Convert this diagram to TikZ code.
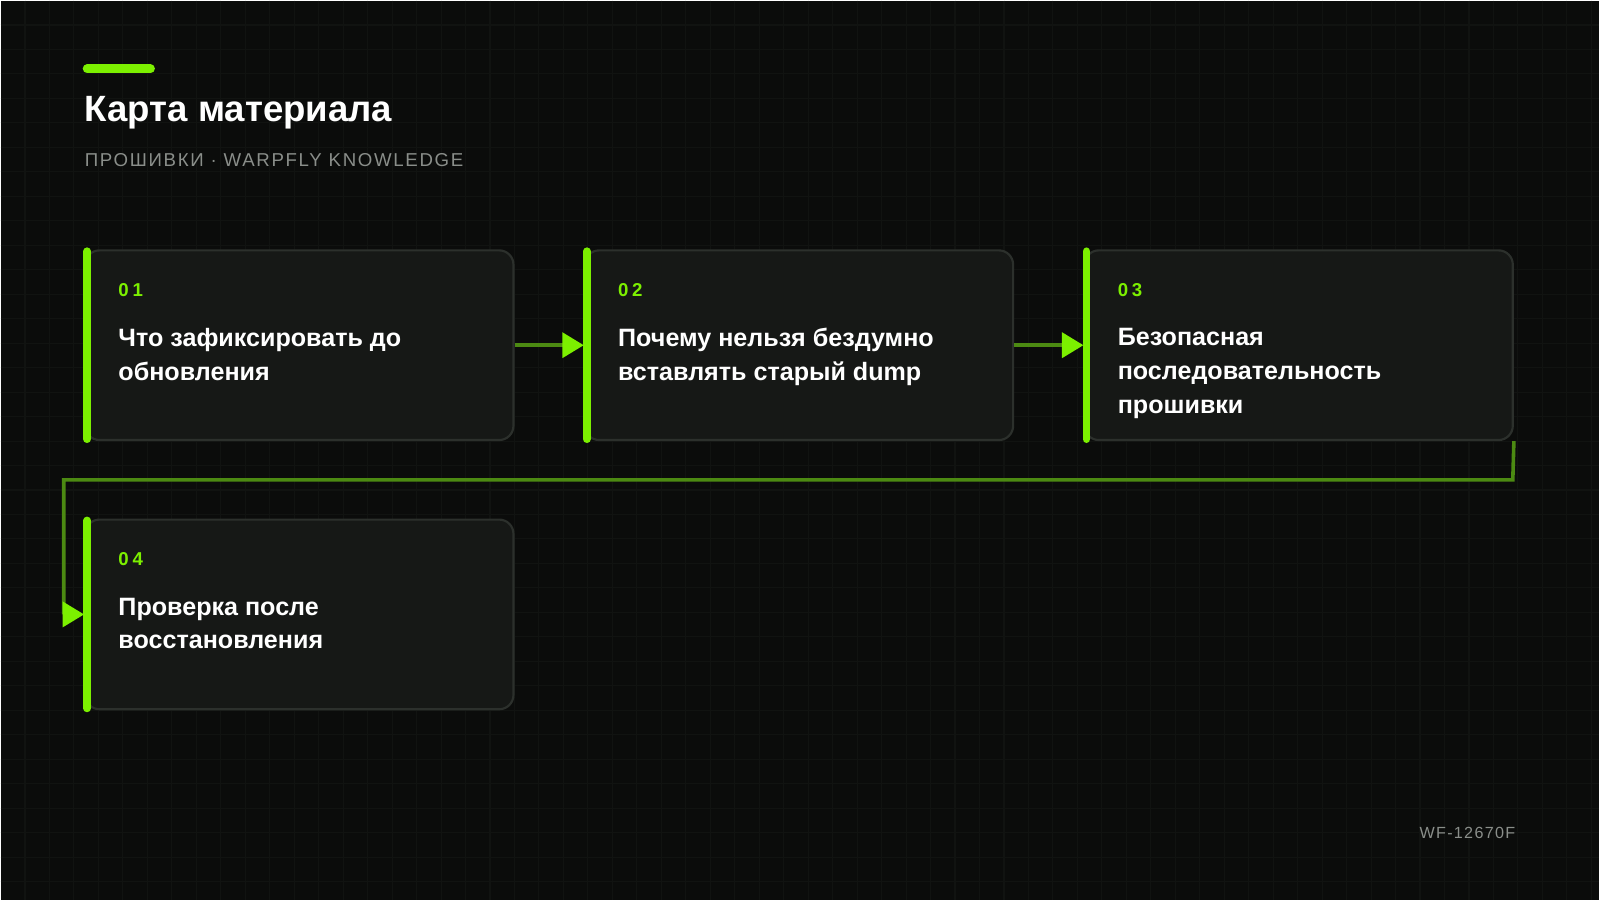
\documentclass[tikz,border=0pt]{standalone}
\usepackage{fontspec}
\setmainfont{Liberation Sans}
\usetikzlibrary{arrows.meta, positioning}
\definecolor{bgc}{HTML}{0B0C0B}
\definecolor{gridc}{HTML}{111311}
\definecolor{cardc}{HTML}{161816}
\definecolor{edgec}{HTML}{2C302C}
\definecolor{limec}{HTML}{7CF000}
\definecolor{linkc}{HTML}{4C8A12}
\definecolor{subc}{HTML}{8A8E8A}
\begin{document}
\begin{tikzpicture}
	[%
	x=0.01cm, y=-0.01cm,
	card/.style ={rectangle, rounded corners=14*0.01cm, draw=edgec, fill=cardc, line width=0.6pt, minimum width=420*0.01cm, minimum height=186*0.01cm, inner sep=0pt},%
	num/.style  ={text=limec, font=\bfseries\fontsize{5.2}{6}\selectfont, anchor=west, inner sep=0pt},%
	body/.style ={text=white, font=\bfseries\fontsize{7}{9.4}\selectfont, anchor=north west, align=left, inner sep=0pt},%
	link/.style ={draw=linkc, line width=1pt, -{Triangle[length=6pt, width=7pt, color=limec]}},%
	]

	% background
	\fill[bgc] (0,0) rectangle (1568,882);
	\foreach \g in {24,48,...,1560} \draw[gridc, line width=0.3pt] (\g,0) -- (\g,882);
	\foreach \g in {24,48,...,870} \draw[gridc, line width=0.3pt] (0,\g) -- (1568,\g);

	% heading
	\draw[limec, line width=2.5pt, line cap=round] (85,67) -- (147,67);
	\node[anchor=west, text=white, font=\bfseries\fontsize{10.2}{12}\selectfont, inner sep=0pt] (title) at (82,110) {Карта материала};
	\node[anchor=west, text=subc, font=\fontsize{5.2}{6}\selectfont, inner sep=0pt] (sub) at (82,156) {\addfontfeature{LetterSpace=9}ПРОШИВКИ · WARPFLY KNOWLEDGE};

	% cards
	\foreach \i/\x/\y/\t in {1/293/338/{Что зафиксировать до\\обновления},
		2/783/338/{Почему нельзя бездумно\\вставлять старый dump},
		3/1273/338/{Безопасная\\последовательность\\прошивки},
		4/293/602/{Проверка после\\восстановления}}
	{
		\node[card] (card\i) at (\x,\y) {};
		\draw[limec, line width=2.2pt, line cap=round] ([xshift=3*0.01cm, yshift=-2*0.01cm]card\i.north west) -- ([xshift=3*0.01cm, yshift=2*0.01cm]card\i.south west);
		\node[num] (num\i) at ([xshift=33*0.01cm, yshift=-40*0.01cm]card\i.north west) {\addfontfeature{LetterSpace=20}0\i};
		\node[body] (text\i) at ([xshift=33*0.01cm, yshift=-77*0.01cm]card\i.north west) {\t};
	}

	% connectors
	\draw[link] (card1.east) -- (card2.west);
	\draw[link] (card2.east) -- (card3.west);
	\coordinate (bendA) at (1483,470);
	\coordinate (bendB) at (62,470);
	\coordinate (bendC) at (62,602);
	\draw[link] (card3.south east) -- (bendA) -- (bendB) -- (bendC) -- (card4.west);

	% footer
	\node[anchor=east, text=subc, font=\fontsize{4.5}{5}\selectfont, inner sep=0pt] (code) at (1486,816) {\addfontfeature{LetterSpace=8}WF-12670F};
\end{tikzpicture}
\end{document}
